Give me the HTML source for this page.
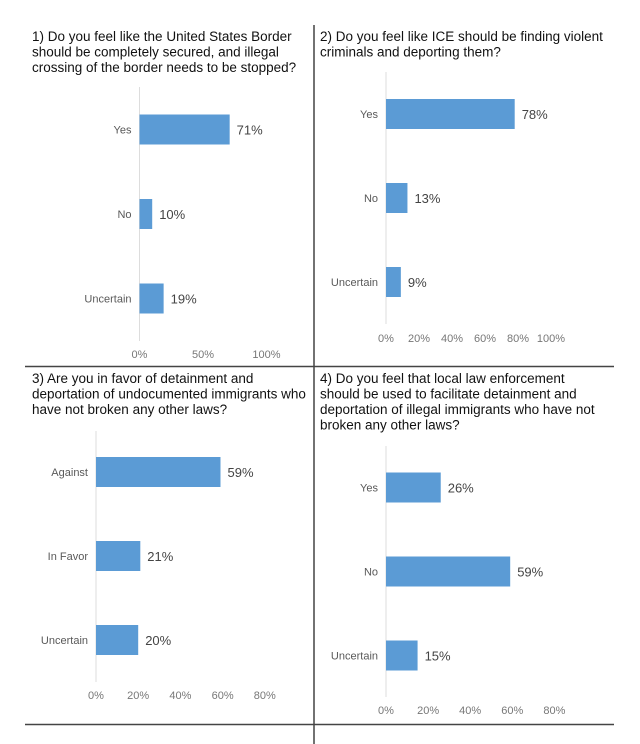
<!DOCTYPE html>
<html><head><meta charset="utf-8"><style>
body{margin:0;background:#fff;width:640px;height:744px;overflow:hidden;font-family:"Liberation Sans",Arial,sans-serif}
svg{display:block}
.t{font-size:13.5px;fill:#111}
.c{font-size:11px;fill:#595959}
.v{font-size:13px;fill:#444}
.k{font-size:11px;fill:#777}
</style></head><body>
<svg id="s" width="640" height="744">
<line x1="314" y1="25" x2="314" y2="744" stroke="#444" stroke-width="1.5"/>
<line x1="25" y1="366.5" x2="614" y2="366.5" stroke="#444" stroke-width="1.5"/>
<line x1="25" y1="724.5" x2="614" y2="724.5" stroke="#444" stroke-width="1.5"/>
</svg>
<script>
const q1Categories=["Yes","No","Uncertain"];
const q1Values=[71,10,19];
const q1Ticks=[0,50,100];
const q2Categories=["Yes","No","Uncertain"];
const q2Values=[78,13,9];
const q2Ticks=[0,20,40,60,80,100];
const q3Categories=["Against","In Favor","Uncertain"];
const q3Values=[59,21,20];
const q3Ticks=[0,20,40,60,80];
const q4Categories=["Yes","No","Uncertain"];
const q4Values=[26,59,15];
const q4Ticks=[0,20,40,60,80];

const NS="http://www.w3.org/2000/svg";
const svg=document.getElementById('s');
function mk(tag,attrs,text){const e=document.createElementNS(NS,tag);for(const k in attrs)e.setAttribute(k,attrs[k]);if(text!==undefined)e.textContent=text;svg.appendChild(e);return e;}

function panel(id,title,tx,ty,cats,vals,ticks,ax,pxPer100,barTop,barGap,axTop,axBot,tickY){
  title.forEach((ln,i)=>{const e=mk('text',{x:tx,y:ty+i*15.5,class:'t'},ln);
    
    });
  const a=mk('line',{x1:ax,y1:axTop,x2:ax,y2:axBot,stroke:'#ddd','stroke-width':1});
  
  
  const xs=v=>ax+v/100*pxPer100;
  cats.forEach((c,i)=>{
    const y=barTop+i*barGap, h=30;
    const r=mk('rect',{x:ax,y:y,width:xs(vals[i])-ax,height:h,fill:'#5b9bd5'});
    
    
    const l=mk('text',{x:ax-8,y:y+h/2+4,class:'c','text-anchor':'end'},c);
    
    
    const v=mk('text',{x:xs(vals[i])+7,y:y+h/2+5,class:'v'},vals[i]+'%');
    
    
  });
  ticks.forEach(t=>{const e=mk('text',{x:xs(t),y:tickY+4,class:'k','text-anchor':'middle'},t+'%');
    
    });
}
panel('q1',["1) Do you feel like the United States Border","should be completely secured, and illegal","crossing of the border needs to be stopped?"],32,41,q1Categories,q1Values,q1Ticks,139.5,127,114.5,84.5,87,341,354);
panel('q2',["2) Do you feel like ICE should be finding violent","criminals and deporting them?"],320,41,q2Categories,q2Values,q2Ticks,386,165,99,84,72,324,338);
panel('q3',["3) Are you in favor of detainment and","deportation of undocumented immigrants who","have not broken any other laws?"],32,383,q3Categories,q3Values,q3Ticks,96,211,457,84,431,682,695);
panel('q4',["4) Do you feel that local law enforcement","should be used to facilitate detainment and","deportation of illegal immigrants who have not","broken any other laws?"],320,383,q4Categories,q4Values,q4Ticks,386,210.5,472.5,84,446,697,710);
</script>
</body></html>
